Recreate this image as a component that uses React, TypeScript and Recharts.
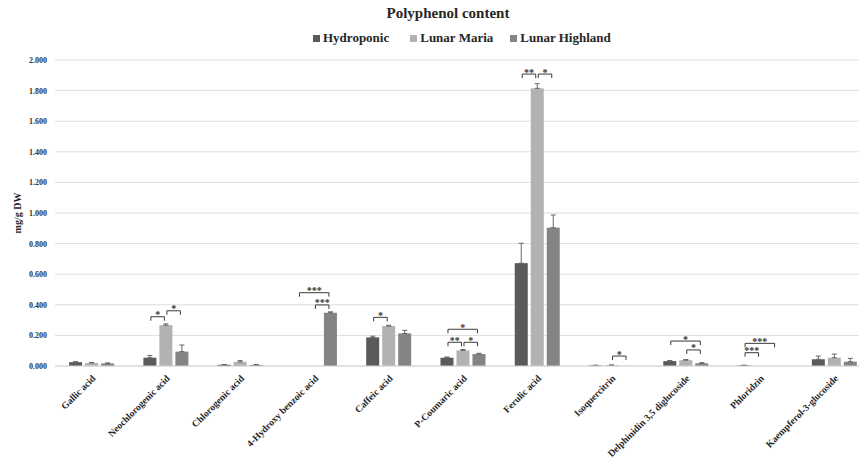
import { Bar, BarChart, CartesianGrid, ErrorBar, Legend, XAxis, YAxis } from 'recharts'

const categories = [
  'Gallic acid',
  'Neochlorogenic acid',
  'Chlorogenic acid',
  '4-Hydroxy benzoic acid',
  'Caffeic acid',
  'P-Coumaric acid',
  'Ferulic acid',
  'Isoquercitrin',
  'Delphinidin 3,5 diglucoside',
  'Phloridzin',
  'Kaempferol-3-glucoside',
]

const hydroponic = [0.025, 0.054, 0.008, 0, 0.187, 0.054, 0.672, 0.004, 0.032, 0.004, 0.044]
const hydroponicErr = [0.004, 0.015, 0.002, null, 0.008, 0.005, 0.13, 0.001, 0.004, 0.001, 0.021]
const lunarMaria = [0.02, 0.267, 0.027, 0, 0.261, 0.102, 1.815, 0.005, 0.038, 0, 0.054]
const lunarMariaErr = [0.003, 0.008, 0.008, null, 0.005, 0.006, 0.03, 0.002, 0.004, null, 0.024]
const lunarHighland = [0.017, 0.094, 0.007, 0.348, 0.213, 0.078, 0.904, 0, 0.018, 0, 0.028]
const lunarHighlandErr = [0.003, 0.043, 0.003, 0.006, 0.02, 0.005, 0.083, null, 0.004, null, 0.022]

const yTicks = [0, 0.2, 0.4, 0.6, 0.8, 1.0, 1.2, 1.4, 1.6, 1.8, 2.0]

// significance brackets: category index, from series, to series, height in mg/g, stars
const brackets = [
  { cat: 1, from: 0, to: 1, level: 0.322, label: '*' },
  { cat: 1, from: 1, to: 2, level: 0.361, label: '*' },
  { cat: 3, from: 0, to: 2, level: 0.479, label: '***' },
  { cat: 3, from: 1, to: 2, level: 0.399, label: '***' },
  { cat: 4, from: 0, to: 1, level: 0.318, label: '*' },
  { cat: 5, from: 0, to: 2, level: 0.24, label: '*' },
  { cat: 5, from: 0, to: 1, level: 0.155, label: '**' },
  { cat: 5, from: 1, to: 2, level: 0.155, label: '*' },
  { cat: 6, from: 0, to: 1, level: 1.908, label: '**' },
  { cat: 6, from: 1, to: 2, level: 1.908, label: '*' },
  { cat: 7, from: 1, to: 2, level: 0.065, label: '*' },
  { cat: 8, from: 0, to: 2, level: 0.163, label: '*' },
  { cat: 8, from: 1, to: 2, level: 0.105, label: '*' },
  { cat: 9, from: 0, to: 2, level: 0.148, label: '***' },
  { cat: 9, from: 0, to: 1, level: 0.087, label: '***' },
]

const series = [
  { key: 'hydroponic', err: 'hydroponicErr', name: 'Hydroponic', color: '#5a5a5a' },
  { key: 'lunarMaria', err: 'lunarMariaErr', name: 'Lunar Maria', color: '#b2b2b2' },
  { key: 'lunarHighland', err: 'lunarHighlandErr', name: 'Lunar Highland', color: '#848484' },
]

const Y_MAX = 2
const BAR_GAP = 3
const FONT = '"Liberation Serif", "Times New Roman", serif'

const upper = (e: number | null) => (e == null ? null : [0, e])

const data = categories.map((name, i) => ({
  name,
  hydroponic: hydroponic[i],
  hydroponicErr: upper(hydroponicErr[i]),
  lunarMaria: lunarMaria[i],
  lunarMariaErr: upper(lunarMariaErr[i]),
  lunarHighland: lunarHighland[i],
  lunarHighlandErr: upper(lunarHighlandErr[i]),
}))

function makeShape(s: number) {
  return (props: any) => {
    const { x, y, width, height, fill, index, background } = props
    const mine = brackets.filter((b) => b.cat === index && b.from === s)
    const toY = (v: number) =>
      background ? background.y + background.height * (1 - v / Y_MAX) : y
    const cx = x + width / 2
    return (
      <g>
        {height > 0 && <rect x={x} y={y} width={width} height={height} fill={fill} />}
        {mine.map((b, k) => {
          const x1 = cx + 1
          const x2 = cx + (b.to - b.from) * (width + BAR_GAP) - 1.5
          const ly = toY(b.level)
          return (
            <g key={k}>
              <path
                d={`M${x1},${ly + 4}V${ly}H${x2}V${ly + 4}`}
                fill="none"
                stroke="#3a3a3a"
                strokeWidth={1}
              />
              <text
                x={(x1 + x2) / 2}
                y={ly + 1.5}
                textAnchor="middle"
                fontSize={10}
                fontWeight="bold"
                fontFamily={FONT}
                fill="#333"
              >
                {b.label}
              </text>
            </g>
          )
        })}
      </g>
    )
  }
}

function CategoryTick({ x, y, payload }: any) {
  const tx = x + 4
  const ty = y + 5
  return (
    <text
      x={tx}
      y={ty}
      transform={`rotate(-45 ${tx} ${ty})`}
      textAnchor="end"
      fontSize={9.6}
      fontWeight="bold"
      fontFamily={FONT}
      fill="#262626"
    >
      {payload.value}
    </text>
  )
}

function ValueTick({ x, y, payload }: any) {
  // tiny rotation keeps the small text greyscale-antialiased
  return (
    <text
      x={x}
      y={y}
      dy={3}
      transform={`rotate(0.01 ${x} ${y})`}
      textAnchor="end"
      fontSize={8}
      fontWeight="bold"
      fontFamily={FONT}
      fill="#333333"
    >
      {Number(payload.value).toFixed(3)}
    </text>
  )
}

function LegendContent() {
  return (
    <div style={{ display: 'flex', height: 18, alignItems: 'center', fontFamily: FONT }}>
      {series.map((s, i) => (
        <div
          key={s.key}
          style={{ display: 'flex', alignItems: 'center', marginRight: i === 0 ? 21 : 17 }}
        >
          <span
            style={{ width: 7, height: 7, background: s.color, display: 'inline-block', marginRight: 3 }}
          />
          <span style={{ fontSize: 13, fontWeight: 'bold', color: '#262626' }}>{s.name}</span>
        </div>
      ))}
    </div>
  )
}

export default function App() {
  return (
    <div
      style={{
        position: 'fixed',
        left: 0,
        top: 0,
        width: 859,
        height: 462,
        overflow: 'hidden',
        background: '#fff',
      }}
    >
      <div
        style={{
          position: 'absolute',
          top: 5,
          left: 0,
          width: 896,
          textAlign: 'center',
          fontFamily: FONT,
          fontWeight: 'bold',
          fontSize: 15,
          color: '#262626',
        }}
      >
        Polyphenol content
      </div>
      <BarChart
        width={900}
        height={462}
        data={data}
        margin={{ top: 42, right: 28, left: 0, bottom: 0 }}
        barCategoryGap="19%"
        barGap={BAR_GAP}
      >
        <CartesianGrid vertical={false} stroke="#dedede" />
        <XAxis
          dataKey="name"
          interval={0}
          height={96}
          tick={<CategoryTick />}
          tickLine={false}
          axisLine={{ stroke: '#d4d4d4' }}
        />
        <YAxis
          width={55}
          domain={[0, Y_MAX]}
          ticks={yTicks}
          tick={<ValueTick />}
          axisLine={false}
          tickLine={false}
          label={{
            content: ({ viewBox }: any) => {
              const cy = viewBox.y + viewBox.height / 2
              return (
                <text
                  x={21}
                  y={cy}
                  transform={`rotate(-90 21 ${cy})`}
                  textAnchor="middle"
                  fontSize={10}
                  fontWeight="bold"
                  fontFamily={FONT}
                  fill="#262626"
                >
                  mg/g DW
                </text>
              )
            },
          }}
        />
        <Legend
          verticalAlign="top"
          content={<LegendContent />}
          wrapperStyle={{ top: 29, left: 313, width: 320 }}
        />
        {series.map((s, i) => (
          <Bar
            key={s.key}
            dataKey={s.key}
            name={s.name}
            fill={s.color}
            shape={makeShape(i)}
            isAnimationActive={false}
          >
            <ErrorBar dataKey={s.err} width={2.5} strokeWidth={1} stroke="#666" direction="y" />
          </Bar>
        ))}
      </BarChart>
    </div>
  )
}
